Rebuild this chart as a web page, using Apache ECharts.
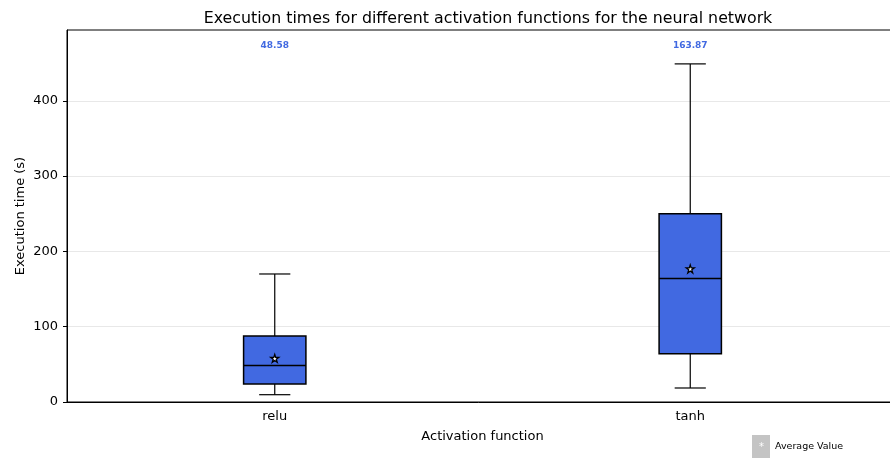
<!DOCTYPE html>
<html><head><meta charset="utf-8">
<script src="https://cdn.jsdelivr.net/npm/echarts@6/dist/echarts.min.js"></script>
<style>html,body{margin:0;padding:0;background:#fff}#c{width:890px;height:459px}</style>
</head><body><div id="c"></div>
<script>
const categories = ['relu', 'tanh'];
const whiskerLow = [9.7, 18.6];
const q1 = [23.9, 64];
const medians = [48.58, 163.87];
const q3 = [87.5, 250];
const whiskerHigh = [170, 449];
const means = [58, 176.7];
const yTicks = [0, 100, 200, 300, 400];
const yMax = 494;

const FONT = 'DejaVu Sans';
const boxData = categories.map((c, i) => [i, whiskerLow[i], q1[i], medians[i], q3[i], whiskerHigh[i]]);
const meanData = categories.map((c, i) => [i, means[i]]);
const STAR = 'path://M50,2 L61,36 L97,36 L68,57 L79,92 L50,71 L21,92 L32,57 L3,36 L39,36 Z';

const chart = echarts.init(document.getElementById('c'));
chart.setOption({
  animation: false,
  title: {
    text: 'Execution times for different activation functions for the neural network',
    left: 483, top: 6, textAlign: 'center',
    textStyle: {fontFamily: FONT, fontSize: 15.8, fontWeight: 'normal', color: '#000'}
  },
  legend: {
    left: 747, top: 430, itemWidth: 18, itemHeight: 23, itemGap: 5,
    data: [{name: 'Average Value', icon: 'rect', itemStyle: {color: '#c4c4c4', borderWidth: 0}}],
    textStyle: {fontFamily: FONT, fontSize: 9.5, color: '#000'},
    selectedMode: false
  },
  grid: {left: 67, width: 831, top: 30, bottom: 57, containLabel: false, outerBoundsMode: 'none',
    show: true, borderColor: '#000', borderWidth: 1, backgroundColor: 'transparent'},
  xAxis: {
    type: 'category', data: categories, boundaryGap: true,
    name: 'Activation function', nameLocation: 'middle', nameGap: 28,
    nameTextStyle: {fontFamily: FONT, fontSize: 13, color: '#000'},
    axisLine: {lineStyle: {color: '#000'}},
    axisTick: {alignWithLabel: true, length: 4, lineStyle: {color: '#000'}},
    axisLabel: {fontFamily: FONT, fontSize: 13, color: '#000', margin: 8},
    splitLine: {show: false}
  },
  yAxis: {
    type: 'value', min: 0, max: yMax, interval: 100,
    name: 'Execution time (s)', nameLocation: 'middle', nameGap: 40, nameMoveOverlap: false,
    nameTextStyle: {fontFamily: FONT, fontSize: 13, color: '#000'},
    axisLine: {show: true, lineStyle: {color: '#000'}},
    axisTick: {show: true, length: 4, lineStyle: {color: '#000'}, customValues: yTicks},
    axisLabel: {fontFamily: FONT, fontSize: 13, color: '#000', margin: 9, customValues: yTicks},
    splitLine: {show: true, lineStyle: {color: '#e8e8e8', width: 1}}
  },
  series: [
    {
      type: 'custom', name: 'box', data: boxData,
      encode: {x: 0, y: [1, 2, 3, 4, 5]},
      renderItem: function (params, api) {
        const i = api.value(0);
        const band = api.size([1, 0])[0];
        const bw = band * 0.15, cw = band * 0.075;
        const cx = api.coord([i, 0])[0];
        const yl = api.coord([i, api.value(1)])[1];
        const y1 = api.coord([i, api.value(2)])[1];
        const ym = api.coord([i, api.value(3)])[1];
        const y3 = api.coord([i, api.value(4)])[1];
        const yh = api.coord([i, api.value(5)])[1];
        const ls = {stroke: '#000', lineWidth: 1.2};
        return {
          type: 'group',
          children: [
            {type: 'line', shape: {x1: cx, y1: yl, x2: cx, y2: y1}, style: ls},
            {type: 'line', shape: {x1: cx, y1: y3, x2: cx, y2: yh}, style: ls},
            {type: 'line', shape: {x1: cx - cw / 2, y1: yl, x2: cx + cw / 2, y2: yl}, style: ls},
            {type: 'line', shape: {x1: cx - cw / 2, y1: yh, x2: cx + cw / 2, y2: yh}, style: ls},
            {type: 'rect', shape: {x: cx - bw / 2, y: y3, width: bw, height: y1 - y3},
              style: {fill: '#4169e1', stroke: '#000', lineWidth: 1.5}},
            {type: 'line', shape: {x1: cx - bw / 2, y1: ym, x2: cx + bw / 2, y2: ym}, style: {stroke: '#000', lineWidth: 1.5}},
            {type: 'text', style: {text: api.value(3).toFixed(2), x: cx, y: params.coordSys.y + 16,
              align: 'center', verticalAlign: 'middle', fill: '#4169e1',
              font: 'bold 9px "DejaVu Sans"'}}
          ]
        };
      }
    },
    {
      type: 'scatter', name: 'Average Value', data: meanData, z: 10,
      symbol: STAR, symbolSize: 8,
      itemStyle: {color: '#fff', borderColor: '#000', borderWidth: 1.3, opacity: 1}
    }
  ],
  graphic: [
    {type: 'text', left: 759, top: 442, z: 100, style: {text: '*', fill: '#fff', font: '10px "DejaVu Sans"'}}
  ]
});
</script></body></html>
